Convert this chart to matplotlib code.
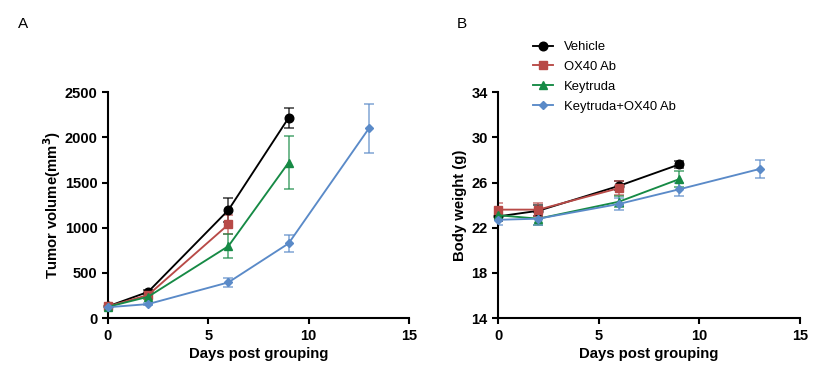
import matplotlib
matplotlib.use("Agg")
import matplotlib.pyplot as plt

plt.rcParams['font.family'] = ['Liberation Sans', 'DejaVu Sans']

groups = ["Vehicle", "OX40 Ab", "Keytruda", "Keytruda+OX40 Ab"]
colors = ["#000000", "#B84A47", "#168A45", "#5A8AC8"]
markers = ["o", "s", "^", "D"]
msizes = [6.2, 5.8, 6.4, 4.2]

days = [
    [0, 2, 6, 9],
    [0, 2, 6],
    [0, 2, 6, 9],
    [0, 2, 6, 9, 13],
]
tumor_mean = [
    [130, 290, 1195, 2215],
    [130, 255, 1036, None],
    [125, 236, 796, 1720],
    [120, 155, 395, 826, 2098],
]
tumor_err = [
    [12, 20, 130, 110],
    [12, 20, 110, None],
    [12, 20, 130, 295],
    [12, 15, 50, 95, 275],
]
bw_mean = [
    [23.0, 23.5, 25.7, 27.6],
    [23.6, 23.6, 25.5],
    [23.1, 22.8, 24.3, 26.3],
    [22.7, 22.8, 24.1, 25.4, 27.2],
]
bw_err = [
    [0.4, 0.5, 0.4, 0.3],
    [0.6, 0.6, 0.6],
    [0.4, 0.6, 0.5, 0.7],
    [0.5, 0.6, 0.5, 0.6, 0.8],
]

fig = plt.figure(figsize=(8.18, 3.76), dpi=100)
axA = fig.add_axes([0.132, 0.154, 0.368, 0.601])
axB = fig.add_axes([0.609, 0.154, 0.369, 0.601])


def draw(ax, means, errs):
    handles = []
    for i in range(len(groups)):
        x = days[i]
        y = [v for v in means[i] if v is not None]
        e = [v for v in errs[i] if v is not None]
        x = x[:len(y)]
        ax.errorbar(x, y, yerr=e, fmt='none', ecolor=colors[i], alpha=0.7,
                    elinewidth=1.2, capsize=3.6, capthick=1.2, zorder=2)
        h, = ax.plot(x, y, color=colors[i], marker=markers[i], ms=msizes[i],
                     lw=1.35, zorder=3 + i * 0.1, clip_on=False)
        handles.append(h)
    for s in ['top', 'right']:
        ax.spines[s].set_visible(False)
    for s in ['left', 'bottom']:
        ax.spines[s].set_linewidth(1.5)
    ax.tick_params(width=1.5, length=4, labelsize=10.5, direction='out')
    ax.set_xlim(0, 15)
    ax.set_xticks([0, 5, 10, 15])
    ax.set_xlabel("Days post grouping", fontsize=10.7, fontweight='bold', labelpad=3)
    return handles


draw(axA, tumor_mean, tumor_err)
axA.set_ylim(0, 2500)
axA.set_yticks([0, 500, 1000, 1500, 2000, 2500])
axA.set_ylabel("Tumor volume(mm$^\\mathbf{3}$)", fontsize=10.7, fontweight='bold', labelpad=1)
for lab in axA.get_xticklabels() + axA.get_yticklabels():
    lab.set_fontweight('bold')

handles = draw(axB, bw_mean, bw_err)
axB.set_ylim(14, 34)
axB.set_yticks([14, 18, 22, 26, 30, 34])
axB.set_ylabel("Body weight (g)", fontsize=10.7, fontweight='bold', labelpad=3)
for lab in axB.get_xticklabels() + axB.get_yticklabels():
    lab.set_fontweight('bold')

fig.legend(handles, groups, loc='upper left', bbox_to_anchor=(0.645, 0.905),
           frameon=False, fontsize=9.4, handlelength=1.55, handletextpad=0.85,
           labelspacing=0.6, borderaxespad=0)

fig.text(0.022, 0.955, "A", fontsize=11, va='top')
fig.text(0.558, 0.955, "B", fontsize=11, va='top')

fig.savefig("out.png", dpi=100)
